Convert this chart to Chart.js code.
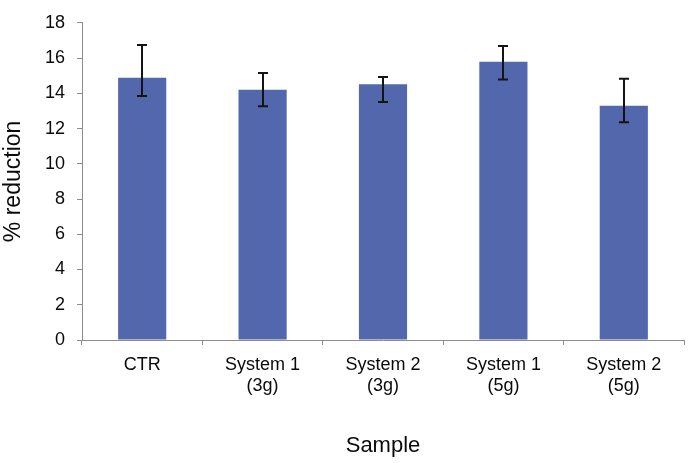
<!DOCTYPE html>
<html>
<head>
<meta charset="utf-8">
<script src="https://cdn.jsdelivr.net/npm/chart.js@4"></script>
<style>
  body { margin: 0; background: #ffffff; }
</style>
</head>
<body>
<canvas id="reductionChart" width="688" height="463"></canvas>
<script>
  const labels = [
    'CTR',
    ['System 1', '(3g)'],
    ['System 2', '(3g)'],
    ['System 1', '(5g)'],
    ['System 2', '(5g)'],
  ];

  const reduction = [14.88, 14.2, 14.51, 15.79, 13.29];
  // upper and lower ends of the error bars
  const errHigh = [16.74, 15.15, 14.92, 16.68, 14.82];
  const errLow = [13.85, 13.27, 13.51, 14.78, 12.36];

  const yTicks = [0, 2, 4, 6, 8, 10, 12, 14, 16, 18];

  const axisGrey = 'rgb(140,140,140)';
  const textColor = 'rgb(10,10,10)';

  const data = {
    labels: labels,
    datasets: [{
      label: '% reduction',
      backgroundColor: 'rgb(82,103,172)',
      borderWidth: 0,
      data: reduction,
      barPercentage: 0.4,
      categoryPercentage: 1.0
    }]
  };

  const errorBars = {
    id: 'errorBars',
    afterDatasetsDraw: (chart) => {
      const {ctx} = chart;
      const yScale = chart.scales.y;
      const meta = chart.getDatasetMeta(0);
      ctx.save();
      ctx.strokeStyle = 'rgb(20,20,20)';
      ctx.lineWidth = 2;
      meta.data.forEach((bar, i) => {
        const x = Math.round(bar.x);
        const top = yScale.getPixelForValue(errHigh[i]);
        const bottom = yScale.getPixelForValue(errLow[i]);
        ctx.beginPath();
        ctx.moveTo(x, top);
        ctx.lineTo(x, bottom);
        ctx.moveTo(x - 5, top);
        ctx.lineTo(x + 5, top);
        ctx.moveTo(x - 5, bottom);
        ctx.lineTo(x + 5, bottom);
        ctx.stroke();
      });
      ctx.restore();
    }
  };

  const background = {
    id: 'background',
    beforeDraw: (chart) => {
      const {ctx} = chart;
      ctx.save();
      ctx.fillStyle = '#ffffff';
      ctx.fillRect(0, 0, chart.width, chart.height);
      ctx.restore();
    }
  };

  const config = {
    type: 'bar',
    data: data,
    plugins: [background, errorBars],
    options: {
      responsive: false,
      animation: false,
      layout: {
        padding: {top: 12, right: 4, left: 0, bottom: 0}
      },
      plugins: {
        legend: {display: false},
        tooltip: {enabled: false}
      },
      scales: {
        x: {
          afterFit: (scale) => { scale.height = 123; },
          grid: {
            drawOnChartArea: false,
            tickLength: 5,
            color: axisGrey
          },
          border: {color: axisGrey},
          ticks: {
            color: textColor,
            padding: 9,
            maxRotation: 0,
            font: {family: 'Liberation Sans', size: 18}
          },
          title: {
            display: true,
            text: 'Sample',
            color: textColor,
            font: {family: 'Liberation Sans', size: 22}
          }
        },
        y: {
          min: 0,
          max: 18,
          afterFit: (scale) => { scale.width = 82; },
          afterBuildTicks: (scale) => {
            scale.ticks = yTicks.map(v => ({value: v}));
          },
          grid: {
            drawOnChartArea: false,
            tickLength: 5,
            color: axisGrey
          },
          border: {color: axisGrey},
          ticks: {
            color: textColor,
            padding: 12,
            font: {family: 'Liberation Sans', size: 18}
          },
          title: {
            display: true,
            text: '% reduction',
            color: textColor,
            padding: {top: 0, bottom: 4},
            font: {family: 'Liberation Sans', size: 23}
          }
        }
      }
    }
  };

  const myChart = new Chart(
    document.getElementById('reductionChart'),
    config
  );
</script>
</body>
</html>
